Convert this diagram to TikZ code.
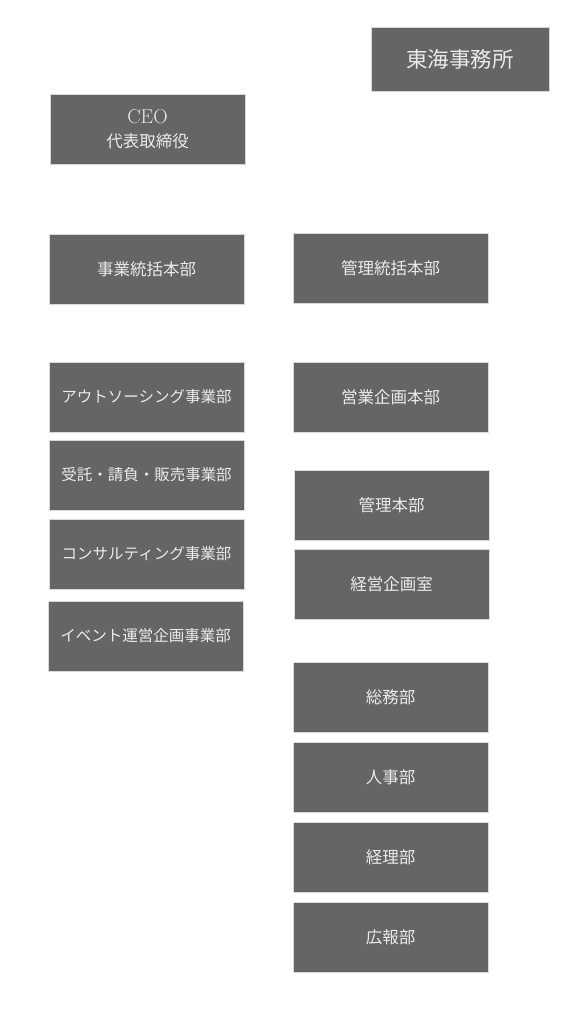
\documentclass[tikz,border=0pt]{standalone}
\usepackage{fontspec}
\newfontfamily\jpfont{Noto Sans CJK JP}
\usetikzlibrary{positioning}

\definecolor{boxgray}{HTML}{656565}

\begin{document}
\begin{tikzpicture}[x=1pt, y=-1pt,
    unit/.style={fill=boxgray, draw=black!15, line width=0.6pt, minimum width=195pt, minimum height=70pt, align=center, text=white!92!black, font=\jpfont\fontsize{16.5}{24}\selectfont, inner sep=0pt},
    small/.style={font=\jpfont\fontsize{15.5}{18}\selectfont}
]
\useasboundingbox (0,0) rectangle (568,1029);

% top
\node[unit, minimum width=178pt, minimum height=64pt, font=\jpfont\fontsize{21.5}{26}\selectfont] (office) at (460,59) {東海事務所};
\node[unit] (ceo) at (147.5,129) {{\rmfamily\fontsize{20}{24}\selectfont CEO}\\代表取締役};

% left column
\node[unit] (biz) at (146.5,269) {事業統括本部};
\node[unit, small] (out) at (146.5,397) {アウトソーシング事業部};
\node[unit, small] (sales) at (146.5,475) {受託・請負・販売事業部};
\node[unit, small] (cons) at (146.5,554) {コンサルティング事業部};
\node[unit, small] (event) at (145.5,636) {イベント運営企画事業部};

% right column
\node[unit] (mgmt) at (390.5,268) {管理統括本部};
\node[unit] (plan) at (390.5,397) {営業企画本部};
\node[unit] (admin) at (391.5,505) {管理本部};
\node[unit] (strat) at (391.5,584) {経営企画室};
\node[unit] (ga) at (390.5,697) {総務部};
\node[unit] (hr) at (390.5,777) {人事部};
\node[unit] (acct) at (390.5,857) {経理部};
\node[unit] (pr) at (390.5,937) {広報部};
\end{tikzpicture}
\end{document}
